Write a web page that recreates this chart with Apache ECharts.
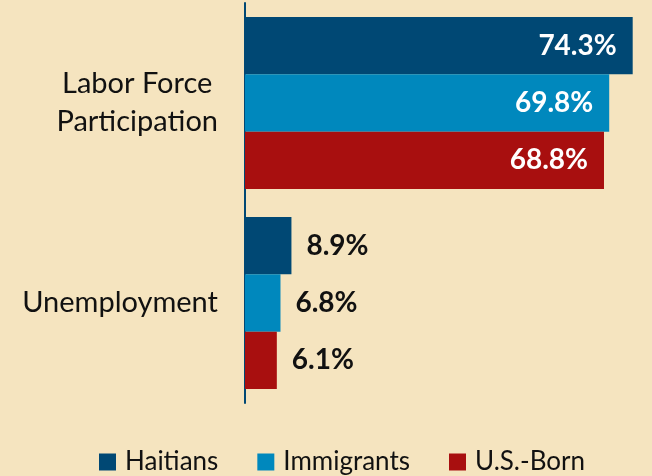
<!DOCTYPE html>
<html>
<head>
<meta charset="utf-8">
<style type="text/css">
    html, body {
        margin: 0;
        padding: 0;
        background: #f5e4bf;
    }
    #bar {
        width: 652px;
        height: 476px;
    }
</style>
</head>
<body>
<div id="bar"></div>

<script src="https://cdn.jsdelivr.net/npm/echarts@6/dist/echarts.min.js"></script>
<script>
    // data
    var categories = ['Labor Force\nParticipation', 'Unemployment'];
    var seriesNames = ['Haitians', 'Immigrants', 'U.S.-Born'];
    var haitians = [74.3, 8.9];
    var immigrants = [69.8, 6.8];
    var usBorn = [68.8, 6.1];

    var colors = ['#004874', '#0088bd', '#a80f0f'];
    var font = 'Lato';

    // first category: label inside the bar, the second: outside
    function makeData(values) {
        return values.map(function (v, i) {
            return {
                value: v,
                label: i === 0
                    ? { position: 'insideRight', distance: 16, color: '#fff' }
                    : { position: 'right', distance: 15, color: '#111' }
            };
        });
    }

    var myChart = echarts.init(document.getElementById('bar'));
    var option = {
        backgroundColor: '#f5e4bf',
        animation: false,
        color: colors,
        grid: {
            left: 245,
            right: 0,
            top: 3,
            bottom: 73
        },
        legend: {
            data: seriesNames,
            left: 99,
            top: 447,
            padding: 0,
            icon: 'rect',
            itemWidth: 17,
            itemHeight: 17,
            itemGap: 39,
            textStyle: {
                fontFamily: font,
                fontSize: 26,
                lineHeight: 30,
                color: '#111',
                padding: [0, 0, 0, 4]
            }
        },
        xAxis: {
            type: 'value',
            min: 0,
            max: 78,
            show: false
        },
        yAxis: {
            type: 'category',
            data: categories,
            inverse: true,
            axisLine: { lineStyle: { color: '#004874', width: 2 } },
            axisTick: { show: false },
            axisLabel: {
                margin: 27,
                formatter: function (v) {
                    return v.split('\n').map(function (s) { return '{a|' + s + '}'; }).join('\n');
                },
                rich: {
                    a: {
                        fontFamily: font,
                        fontSize: 29,
                        color: '#111',
                        align: 'center',
                        lineHeight: 38
                    }
                }
            }
        },
        series: [
            { name: seriesNames[0], type: 'bar', data: makeData(haitians) },
            { name: seriesNames[1], type: 'bar', data: makeData(immigrants) },
            { name: seriesNames[2], type: 'bar', data: makeData(usBorn) }
        ].map(function (s) {
            s.barGap = '0%';
            s.barCategoryGap = '14%';
            s.label = {
                show: true,
                fontFamily: font,
                fontSize: 28,
                fontWeight: 'bold',
                formatter: '{c}%'
            };
            return s;
        })
    };
    myChart.setOption(option);
</script>
</body>
</html>
